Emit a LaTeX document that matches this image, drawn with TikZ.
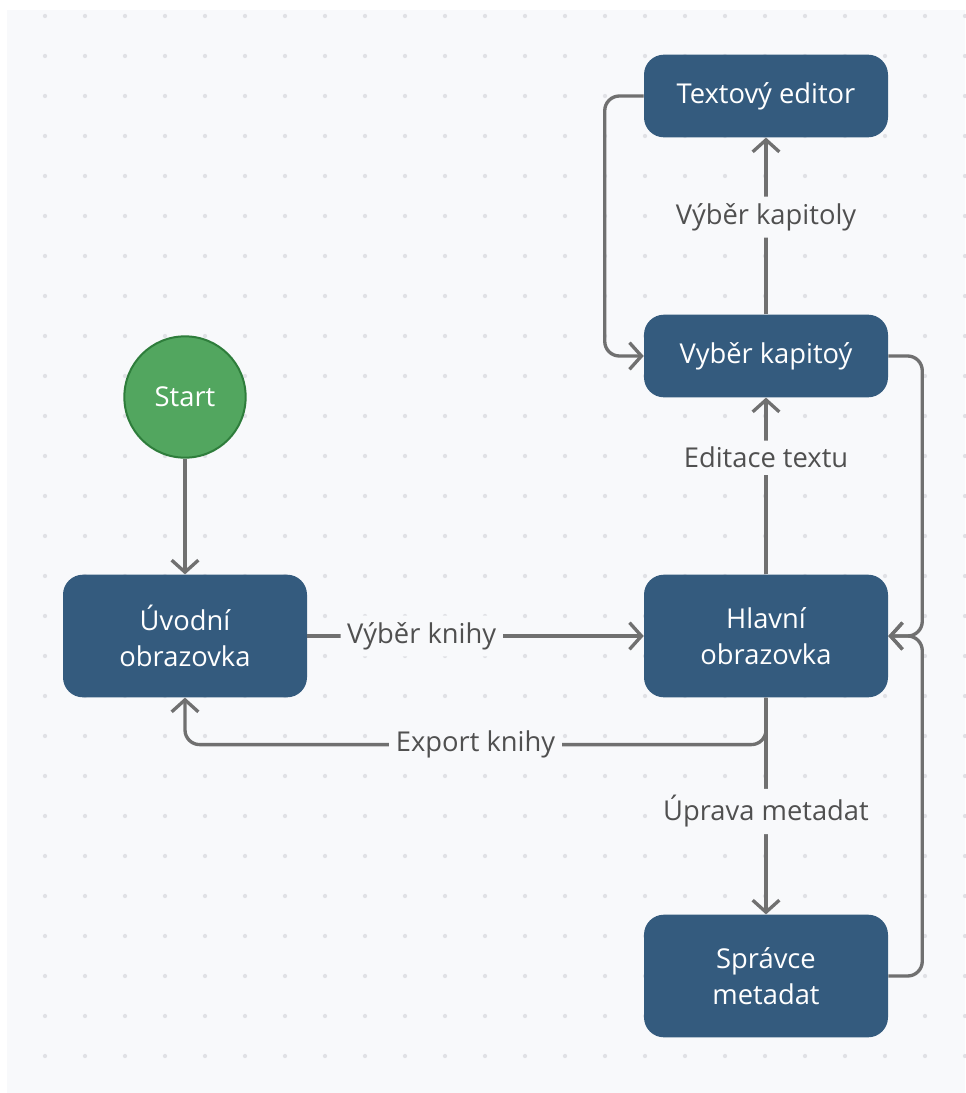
\documentclass[tikz,border=0pt]{standalone}
\usepackage{fontspec}
\setmainfont{Open Sans}
\usetikzlibrary{arrows.meta}
\definecolor{boxblue}{HTML}{345B7E}
\definecolor{startgreen}{HTML}{52A65F}
\definecolor{startrim}{HTML}{2E7D3B}
\definecolor{linegray}{HTML}{707070}
\definecolor{labelgray}{HTML}{505050}
\definecolor{canvas}{HTML}{F8F9FB}
\definecolor{dotgray}{HTML}{E0E1E5}
\tikzset{
   screen/.style={fill=boxblue, rounded corners=15pt, minimum width=183pt,
      text=white, align=center, font=\fontsize{20.5}{27.5}\selectfont},
   startnode/.style={circle, fill=startgreen, draw=startrim, line width=1.5pt,
      minimum size=91pt, text=white, font=\fontsize{20.5}{27.5}\selectfont},
   lbl/.style={fill=canvas, text=labelgray, inner sep=5pt,
      font=\fontsize{20.5}{27.5}\selectfont},
   flow/.style={draw=linegray, line width=2.5pt, rounded corners=11pt,
      -{Straight Barb[length=9pt, width=20pt]}}
}
\begin{document}
\begin{tikzpicture}[x=0.75pt, y=-0.75pt]
      \useasboundingbox (0,0) rectangle (965,1093);
      \fill[white] (0,0) rectangle (965,1093);
      \fill[canvas] (7,10) rectangle (965,1093);
      \foreach \x in {45,85,...,965} {
         \foreach \y in {16,56,...,1093} {
            \fill[dotgray] (\x,\y) circle[radius=1.6pt];
         }
      }
      \begin{scope}
         \def \Screens {
            textovy/766/96/62/Textový editor,
            kapitoly/766/356/62/Vyběr kapitoý,
            uvodni/185/636/92/Úvodní\\obrazovka,
            hlavni/766/636/92/Hlavní\\obrazovka,
            spravce/766/976/92/Správce\\metadat}
         \foreach \u / \x / \y / \h / \n in \Screens {
            \node[screen, minimum height=\h pt] (\u) at (\x, \y){\n};
         }
         \node[startnode] (start) at (185, 397){Start};
      \end{scope}
      \draw[flow] (start) -- (uvodni);
      \draw[flow] (uvodni) -- node[lbl, pos=0.34]{Výběr knihy} (hlavni);
      \draw[flow] (hlavni.south) -- ++(0,47) -| node[lbl, pos=0.25]{Export knihy} (uvodni.south);
      \draw[flow] (hlavni) -- node[lbl, pos=0.525]{Úprava metadat} (spravce);
      \draw[flow] (hlavni) -- node[lbl, pos=0.66]{Editace textu} (kapitoly);
      \draw[flow] (kapitoly) -- node[lbl, pos=0.55]{Výběr kapitoly} (textovy);
      \draw[flow] (textovy.west) -- ++(-39,0) |- (kapitoly.west);
      \draw[flow] (kapitoly.east) -- ++(34,0) |- (hlavni.east);
      \draw[flow] (spravce.east) -- ++(34,0) |- (hlavni.east);
   \end{tikzpicture}
\end{document}
